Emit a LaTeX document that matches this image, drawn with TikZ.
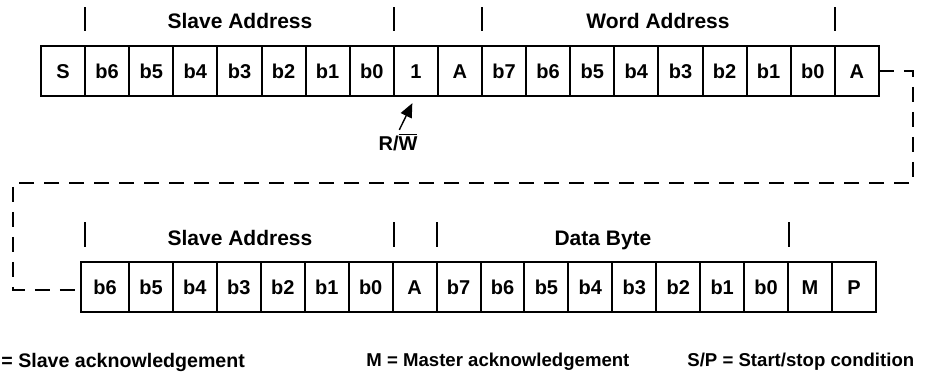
\documentclass[tikz,border=0pt]{standalone}
\usepackage{fontspec}
\setmainfont{Liberation Sans}
\usetikzlibrary{positioning,arrows.meta}

\tikzset{
  cell/.style={draw, line width=1pt, minimum height=25pt, inner sep=0pt, outer sep=0pt, text height=7.2pt, text depth=0pt, font=\fontsize{10}{12}\selectfont\bfseries},
  field/.style={inner sep=0pt, text height=7.5pt, text depth=0pt, font=\fontsize{10.5}{12}\selectfont\bfseries},
  bar/.style={line width=0.7pt},
  linkline/.style={line width=0.65pt, dash pattern=on 7.5pt off 5pt},
  legend/.style={inner sep=0pt, font=\fontsize{9.3}{11}\selectfont\bfseries}
}

\begin{document}
\begin{tikzpicture}[x=0.5pt,y=-0.5pt]
\useasboundingbox (0,0) rectangle (949,375);

% first frame: start, slave address, R/W, ack, word address, ack
\node[cell, minimum width=22.05pt, anchor=west] (t1) at (41,71) {S};
\foreach \lbl [count=\i from 2] in {b6,b5,b4,b3,b2,b1,b0,1,A,b7,b6,b5,b4,b3,b2,b1,b0,A}{
  \pgfmathtruncatemacro\j{\i-1}
  \node[cell, minimum width=22.05pt, right=0pt of t\j] (t\i) {\lbl};
}

\draw[bar] (85,7) -- (85,31);
\draw[bar] (394,7) -- (394,31);
\draw[bar] (482,7) -- (482,31);
\draw[bar] (835,7) -- (835,31);
\node[field] (slaveT) at (240,21) {Slave Address};
\node[field] (word) at (658,21) {Word Address};

\node[inner sep=0pt, font=\fontsize{10}{12}\selectfont\bfseries] (rw) at (398,142) {R/$\overline{\mbox{W}}$};
\draw[line width=0.7pt, -{Triangle[length=7pt,width=6pt]}, shorten <=1.5pt, shorten >=4pt] (rw.north) -- (t9.south);

% second frame: slave address, ack, data byte, master ack, stop
\node[cell, minimum width=24pt, anchor=west] (b1) at (81,287) {b6};
\foreach \lbl [count=\i from 2] in {b5,b4,b3,b2,b1,b0,A,b7,b6,b5,b4,b3,b2,b1,b0,M,P}{
  \pgfmathtruncatemacro\j{\i-1}
  \node[cell, minimum width=21.97pt, right=0pt of b\j] (b\i) {\lbl};
}

\draw[bar] (85,222) -- (85,247);
\draw[bar] (394,222) -- (394,247);
\draw[bar] (437,222) -- (437,247);
\draw[bar] (789,222) -- (789,247);
\node[field] (slaveB) at (240,238) {Slave Address};
\node[field] (data) at (603,238) {Data Byte};

% continuation line
\coordinate (turnR) at (913,183);
\coordinate (turnL) at (13,183);
\draw[linkline] (t19.east) -| (turnR) -- (turnL) |- ([yshift=-1.5pt]b1.west);

% legend
\node[legend, font=\fontsize{9.8}{11}\selectfont\bfseries, anchor=west] (ackS) at (1,362) {= Slave acknowledgement};
\node[legend, anchor=west] (ackM) at (366,362) {M = Master acknowledgement};
\node[legend, anchor=west] (cond) at (687,362) {S/P = Start/stop condition};

\end{tikzpicture}
\end{document}
